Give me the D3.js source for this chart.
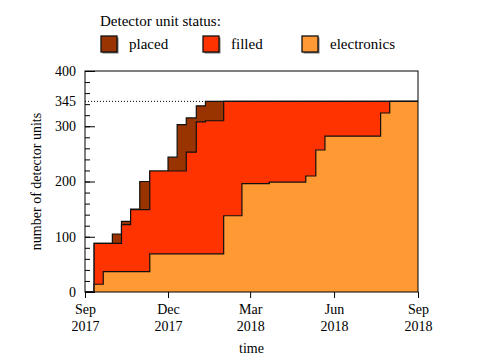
<!DOCTYPE html>
<html>
<head>
<meta charset="utf-8">
<script src="https://cdn.jsdelivr.net/npm/d3@7"></script>
<style>
  body { margin: 0; background: #fff; }
  text { font-family: "Liberation Serif", "DejaVu Serif", serif; fill: #000; }
</style>
</head>
<body>
<svg></svg>
<script>
// step dates (value holds from this date until the next one)
var dates = ['2017-09-01', '2017-09-11', '2017-09-21', '2017-10-01', '2017-10-11',
    '2017-10-21', '2017-10-31', '2017-11-11', '2017-12-01', '2017-12-11',
    '2017-12-21', '2018-01-01', '2018-01-11', '2018-01-31', '2018-02-20',
    '2018-03-22', '2018-05-01', '2018-05-12', '2018-05-22', '2018-07-22',
    '2018-08-01', '2018-09-01'];
var placed      = [0, 88, 88, 105, 128, 150, 200, 219, 244, 303, 315, 337, 345, 345, 345, 345, 345, 345, 345, 345, 345, 345];
var filled      = [0, 88, 88, 88, 122, 149, 149, 219, 219, 219, 253, 308, 310, 345, 345, 345, 345, 345, 345, 345, 345, 345];
var electronics = [0, 14, 37, 37, 37, 37, 37, 69, 69, 69, 69, 69, 69, 138, 196, 199, 210, 257, 282, 324, 345, 345];

var seriesNames = ['placed', 'filled', 'electronics'];
var seriesColors = ['#993300', '#ff3300', '#ff9933'];

var xTicks = ['2017-09-01', '2017-12-01', '2018-03-01', '2018-06-01', '2018-09-01'];
var yMajor = [0, 100, 200, 300, 400];
var total = 345;

var parse = d3.timeParse('%Y-%m-%d');

document.addEventListener("DOMContentLoaded", (event) => {
    drawChart();
});

function drawChart() {
    var svgWidth = 482, svgHeight = 361;
    var margin = { top: 71, right: 64, bottom: 69, left: 85 };
    var width = svgWidth - margin.left - margin.right;
    var height = svgHeight - margin.top - margin.bottom;

    var svg = d3.select('svg')
        .attr('width', svgWidth)
        .attr('height', svgHeight);

    var g = svg.append('g')
        .attr('transform', 'translate(' + margin.left + ',' + margin.top + ')');

    var x = d3.scaleTime()
        .domain([parse('2017-09-01'), parse('2018-09-01')])
        .range([0, width]);

    var y = d3.scaleLinear()
        .domain([0, 400])
        .range([height, 0]);

    var rows = dates.map((d, i) => {
        return { date: parse(d), placed: placed[i], filled: filled[i], electronics: electronics[i] };
    });

    // dotted line for the total
    g.append('line')
        .attr('x1', 0).attr('x2', width)
        .attr('y1', y(total)).attr('y2', y(total))
        .attr('stroke', '#000')
        .attr('stroke-width', 1)
        .attr('stroke-dasharray', '1,2');

    seriesNames.forEach((key, i) => {
        var area = d3.area()
            .curve(d3.curveStepAfter)
            .x((d) => x(d.date))
            .y0(y(0))
            .y1((d) => y(d[key]));
        var line = d3.line()
            .curve(d3.curveStepAfter)
            .x((d) => x(d.date))
            .y((d) => y(d[key]));
        g.append('path')
            .datum(rows)
            .attr('fill', seriesColors[i])
            .attr('d', area);
        g.append('path')
            .datum(rows)
            .attr('fill', 'none')
            .attr('stroke', '#111')
            .attr('stroke-width', 1.2)
            .attr('d', line);
    });

    // frame
    g.append('rect')
        .attr('width', width).attr('height', height)
        .attr('fill', 'none')
        .attr('stroke', '#000')
        .attr('stroke-width', 1);

    // y axis: minor and major ticks point inwards
    g.append('g')
        .call(d3.axisLeft(y).tickValues(d3.range(0, 401, 20)).tickSize(-5).tickFormat(''))
        .call((a) => a.select('.domain').remove());
    g.append('g')
        .call(d3.axisLeft(y).tickValues(yMajor).tickSize(-10).tickPadding(9))
        .call((a) => a.select('.domain').remove());
    g.append('g')
        .call(d3.axisLeft(y).tickValues([total]).tickSize(0).tickPadding(9))
        .call((a) => a.select('.domain').remove());
    g.selectAll('.tick text').attr('font-size', 14).attr('font-family', null);

    // x axis
    var xAxis = g.append('g')
        .attr('transform', 'translate(0,' + height + ')')
        .call(d3.axisBottom(x).tickValues(xTicks.map(parse)).tickSize(6).tickFormat(''));
    xAxis.select('.domain').remove();
    xAxis.selectAll('.tick').each(function(d) {
        var t = d3.select(this).append('text')
            .attr('text-anchor', 'middle')
            .attr('font-size', 14);
        t.append('tspan').attr('x', 0).attr('y', 22).text(d3.timeFormat('%b')(d));
        t.append('tspan').attr('x', 0).attr('y', 39).text(d3.timeFormat('%Y')(d));
    });

    g.append('text')
        .attr('x', width / 2)
        .attr('y', height + 61)
        .attr('text-anchor', 'middle')
        .attr('font-size', 14)
        .text('time');

    g.append('text')
        .attr('transform', 'translate(-44,' + (height / 2) + ') rotate(-90)')
        .attr('text-anchor', 'middle')
        .attr('font-size', 14)
        .text('number of detector units');

    // legend
    var legend = svg.append('g');
    legend.append('text')
        .attr('x', 100).attr('y', 26)
        .attr('font-size', 15)
        .text('Detector unit status:');
    var legX = [101, 203, 302];
    seriesNames.forEach((key, i) => {
        var lg = legend.append('g').attr('transform', 'translate(' + legX[i] + ',36)');
        lg.append('rect')
            .attr('x', 1.5).attr('y', 1.5)
            .attr('width', 16).attr('height', 16)
            .attr('fill', '#777');
        lg.append('rect')
            .attr('width', 16).attr('height', 16)
            .attr('fill', seriesColors[i])
            .attr('stroke', '#111')
            .attr('stroke-width', 1.3);
        lg.append('text')
            .attr('x', 28).attr('y', 13)
            .attr('font-size', 15)
            .text(key);
    });
}
</script>
</body>
</html>
